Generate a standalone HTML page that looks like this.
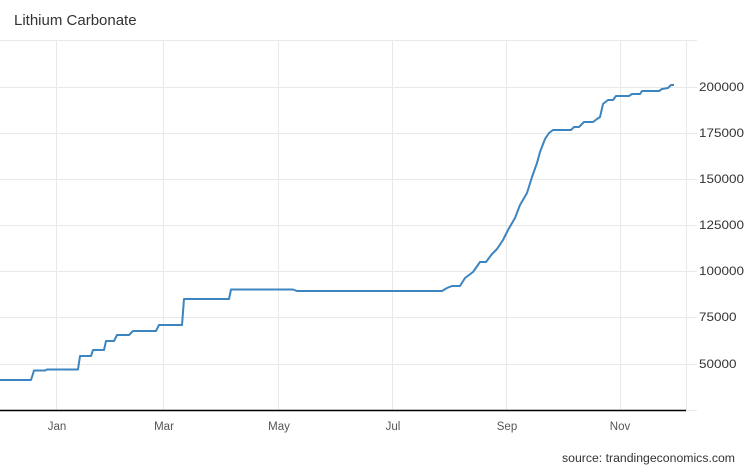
<!DOCTYPE html>
<html><head><meta charset="utf-8"><style>
body{margin:0;width:746px;height:468px;background:#fff;overflow:hidden}
svg{display:block}
text{font-family:"Liberation Sans",sans-serif}
</style></head><body>
<svg width="746" height="468" viewBox="0 0 746 468">
<text x="14" y="25" font-size="15" fill="#333">Lithium Carbonate</text>
<g stroke="#e9e9e9" stroke-width="1">
<line x1="0" y1="40.5" x2="697" y2="40.5"/>
<line x1="0" y1="87.5" x2="697" y2="87.5"/>
<line x1="0" y1="133.5" x2="697" y2="133.5"/>
<line x1="0" y1="179.5" x2="697" y2="179.5"/>
<line x1="0" y1="225.5" x2="697" y2="225.5"/>
<line x1="0" y1="271.5" x2="697" y2="271.5"/>
<line x1="0" y1="317.5" x2="697" y2="317.5"/>
<line x1="0" y1="364.5" x2="697" y2="364.5"/>
<line x1="0" y1="410.5" x2="697" y2="410.5"/>
<line x1="56.5" y1="40" x2="56.5" y2="410"/>
<line x1="163.5" y1="40" x2="163.5" y2="410"/>
<line x1="278.5" y1="40" x2="278.5" y2="410"/>
<line x1="392.5" y1="40" x2="392.5" y2="410"/>
<line x1="506.5" y1="40" x2="506.5" y2="410"/>
<line x1="620.5" y1="40" x2="620.5" y2="410"/>
<line x1="686.5" y1="40" x2="686.5" y2="410"/>
</g>
<line x1="0" y1="410.5" x2="686" y2="410.5" stroke="#000" stroke-width="1.5"/>
<g font-size="11.5" fill="#333">
<text x="699" y="91" textLength="45" lengthAdjust="spacingAndGlyphs">200000</text>
<text x="699" y="137" textLength="45" lengthAdjust="spacingAndGlyphs">175000</text>
<text x="699" y="183" textLength="45" lengthAdjust="spacingAndGlyphs">150000</text>
<text x="699" y="229" textLength="45" lengthAdjust="spacingAndGlyphs">125000</text>
<text x="699" y="275" textLength="45" lengthAdjust="spacingAndGlyphs">100000</text>
<text x="699" y="321" textLength="37.5" lengthAdjust="spacingAndGlyphs">75000</text>
<text x="699" y="368" textLength="37.5" lengthAdjust="spacingAndGlyphs">50000</text>
</g>
<g font-size="11.5" fill="#555" text-anchor="middle">
<text x="57" y="430">Jan</text>
<text x="164" y="430">Mar</text>
<text x="279" y="430">May</text>
<text x="393" y="430">Jul</text>
<text x="507" y="430">Sep</text>
<text x="620" y="430">Nov</text>
</g>
<text x="562" y="462" font-size="11.5" fill="#333" textLength="173" lengthAdjust="spacingAndGlyphs">source: trandingeconomics.com</text>
<polyline fill="none" stroke="#3d85c0" stroke-width="2" stroke-linejoin="round" points="0,380 31,380 34,370.5 45,370.5 47,369.5 78,369.5 80,356 91,356 93,350 104,350 106,341 114,341 117,335 129,335 133,331 156,331 159,325 182,325 184,299 229,299 231,289.5 293,289.5 297,291 441,291 442,291 447,288 452,286 460,286 465,278 473,272 480,262 486,262 492,254 497,249 503,240 508,230 515,218 520,205 527,193 532,177 537,163 540,152 545,139 549,133 553,130 571,130 574,127 579,127 584,122 593,122 597,119 600,117 603,104 608,100 613,100 616,96 629,96 632,94 640,94 642,91 659,91 662,89 668,88 671,85 674,85"/>
</svg>
</body></html>
